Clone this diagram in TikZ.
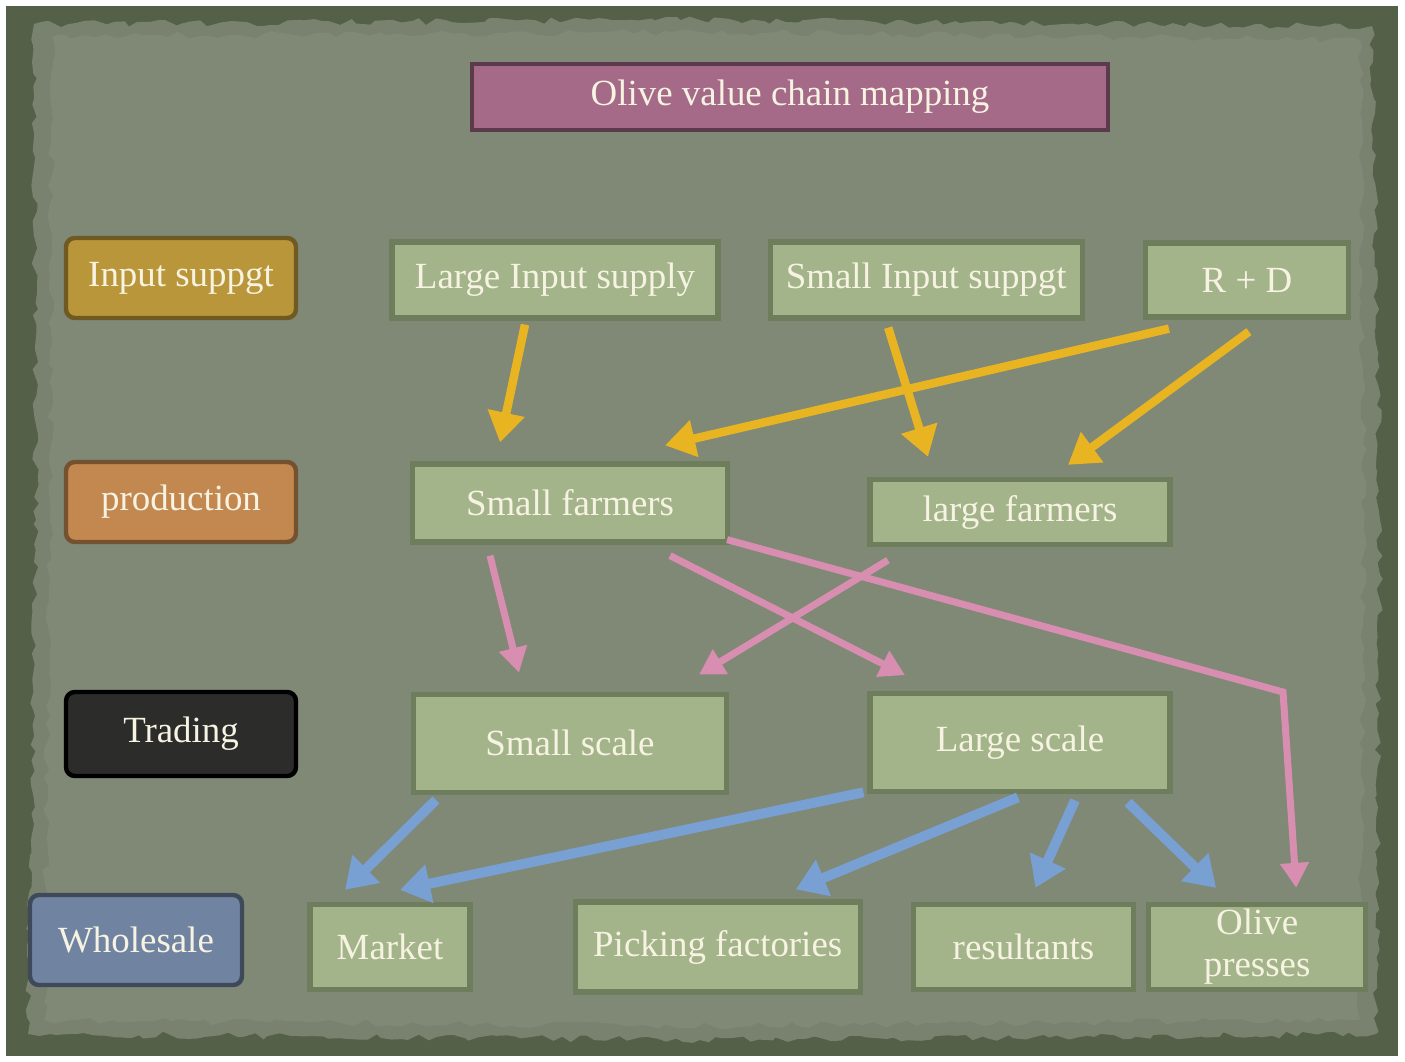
\documentclass[tikz,border=0pt]{standalone}
\usepackage{fontspec}
\setmainfont{Liberation Serif}
\usetikzlibrary{shapes,arrows.meta,positioning,calc,decorations.pathmorphing}

\definecolor{framegreen}{RGB}{84,96,72}
\definecolor{papergreen}{RGB}{128,136,118}
\definecolor{boxfill}{RGB}{163,179,138}
\definecolor{boxline}{RGB}{110,126,92}
\definecolor{cream}{RGB}{247,243,226}
\definecolor{titlepink}{RGB}{164,106,136}
\definecolor{inputgold}{RGB}{186,150,58}
\definecolor{prodorange}{RGB}{194,136,80}
\definecolor{tradeblack}{RGB}{44,44,42}
\definecolor{saleblue}{RGB}{112,132,162}
\definecolor{arrowyellow}{RGB}{232,180,34}
\definecolor{arrowpink}{RGB}{216,142,176}
\definecolor{arrowblue}{RGB}{120,160,210}

\begin{document}
\begin{tikzpicture}[
    x=0.02cm, y=-0.02cm,
    every node/.style={font=\fontsize{21}{23}\selectfont, text=cream},
    box/.style={rectangle, draw=boxline, line width=3pt, fill=boxfill, align=center},
    hdr/.style={rectangle, rounded corners=5pt, line width=2.5pt, minimum width=4.6cm, minimum height=1.6cm},
    yarrow/.style={-{Triangle[width=0.72cm,length=0.6cm]}, line width=0.17cm, draw=arrowyellow},
    parrow/.style={-{Triangle[width=0.55cm,length=0.5cm]}, line width=0.14cm, draw=arrowpink},
    barrow/.style={-{Triangle[width=0.75cm,length=0.6cm]}, line width=0.2cm, draw=arrowblue}
]
\useasboundingbox (0,0) rectangle (1405,1061);

% Paper background
\fill[framegreen] (6,6) rectangle (1398,1056);
\fill[papergreen!85!framegreen, decorate, decoration={random steps, segment length=5pt, amplitude=2pt}]
    (34,24) -- (700,20) -- (1372,26) -- (1380,520) -- (1376,1034) -- (700,1040) -- (28,1034) -- (36,520) -- cycle;
\fill[papergreen, decorate, decoration={random steps, segment length=6pt, amplitude=2pt}]
    (52,36) -- (700,32) -- (1360,40) -- (1364,520) -- (1360,1020) -- (700,1026) -- (44,1020) -- (50,520) -- cycle;

% Title
\node[rectangle, draw=titlepink!55!black, line width=2.5pt, fill=titlepink,
      minimum width=12.72cm, minimum height=1.32cm] (title) at (790,97) {Olive value chain mapping};

% Row headers
\node[hdr, draw=inputgold!60!black, fill=inputgold] (hinput) at (181,278) {Input suppgt};
\node[hdr, draw=prodorange!60!black, fill=prodorange] (hprod) at (181,502) {production};
\node[hdr, draw=black, fill=tradeblack, minimum height=1.68cm] (htrade) at (181,734) {Trading};
\node[hdr, draw=saleblue!55!black, fill=saleblue, minimum width=4.24cm, minimum height=1.8cm] (hsale) at (136,940) {Wholesale};

% Input supply row
\node[box, minimum width=6.52cm, minimum height=1.52cm] (lis) at (555,280) {Large Input supply};
\node[box, minimum width=6.24cm, minimum height=1.52cm, right=0.94cm of lis] (sis) {Small Input suppgt};
\node[box, minimum width=4.06cm, minimum height=1.48cm, right=1.16cm of sis] (rd) {R + D};

% Production row
\node[box, minimum width=6.3cm, minimum height=1.56cm] (sf) at (570,503) {Small farmers};
\node[box, minimum width=6.0cm, minimum height=1.3cm] (lf) at (1020,512) {large farmers};

% Trading row
\node[box, minimum width=6.26cm, minimum height=1.96cm, below=2.94cm of sf] (ss) {Small scale};
\node[box, minimum width=6.0cm, minimum height=1.96cm, below=2.88cm of lf] (ls) {Large scale};

% Wholesale row
\node[box, minimum width=3.2cm, minimum height=1.7cm] (market) at (390,947) {Market};
\node[box, minimum width=5.7cm, minimum height=1.8cm, right=2.0cm of market] (pick) {Picking factories};
\node[box, minimum width=4.4cm, minimum height=1.7cm, right=0.96cm of pick] (res) {resultants};
\node[box, minimum width=4.34cm, minimum height=1.7cm, inner ysep=0pt, right=0.2cm of res] (op) {Olive\\[1pt]presses};

% Input arrows
\draw[yarrow] ($(lis.south)+(-30,4)$) -- ($(sf.north)+(-70,-19)$);
\draw[yarrow] ($(sis.south)+(-38,7)$) -- ($(lf.north)+(-92,-20)$);
\draw[yarrow] ($(rd.south)+(-78,9)$) -- ($(sf.north)+(95,-16)$);
\draw[yarrow] ($(rd.south)+(2,12)$) -- ($(lf.north)+(48,-12)$);

% Production arrows
\coordinate (pbend) at (1283,692);
\draw[parrow] ($(sf.south)+(-80,11)$) -- ($(ss.north)+(-51,-19)$);
\draw[parrow] ($(sf.south)+(100,11)$) -- ($(ls.north)+(-115,-16)$);
\draw[parrow] ($(lf.south)+(-132,13)$) -- ($(ss.north)+(129,-17)$);
\draw[parrow] ($(sf.south east)+(-3,-5)$) -- (pbend) -- ($(op.north)+(39,-14)$);

% Trading arrows
\draw[barrow] ($(ss.south)+(-134,5)$) -- ($(market.north)+(-45,-12)$);
\draw[barrow] ($(ls.south west)+(-4,-2)$) -- ($(market.north)+(10,-12)$);
\draw[barrow] ($(ls.south)+(-2,3)$) -- ($(pick.north)+(78,-10)$);
\draw[barrow] ($(ls.south)+(55,6)$) -- ($(res.north)+(12,-14)$);
\draw[barrow] ($(ls.south)+(108,8)$) -- ($(op.north)+(-41,-14)$);

\end{tikzpicture}
\end{document}
